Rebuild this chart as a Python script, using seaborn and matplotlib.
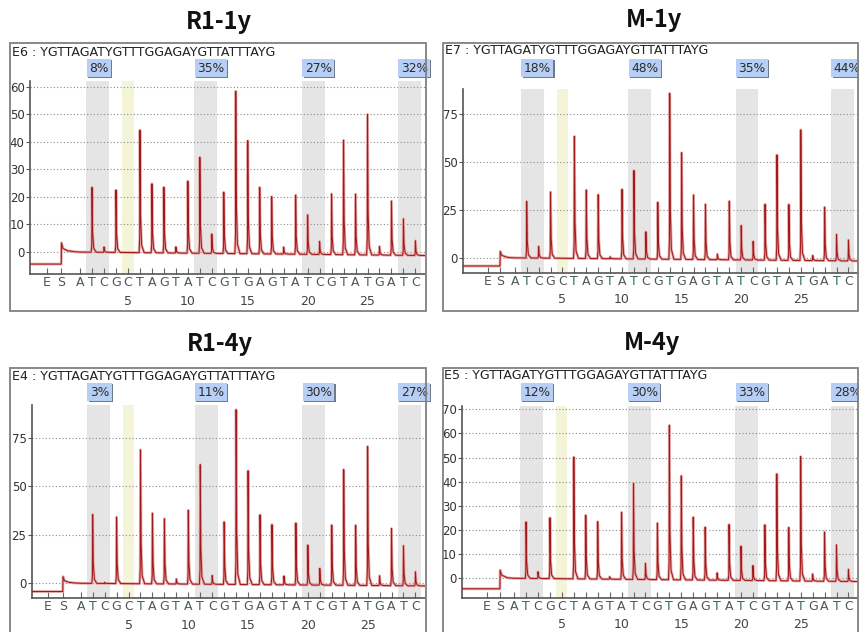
import matplotlib
matplotlib.use("Agg")
import matplotlib.pyplot as plt
import matplotlib.transforms as mtransforms
from matplotlib.patches import Rectangle
import seaborn as sns

W, H = 859, 632

# dispensation order (positions 1..29) and target sequence
dispensation = list("ATCGCTAGTATCGTGAGTATCGTATGATC")
positions = list(range(1, 30))
sequence = "YGTTAGATYGTTTGGAGAYGTTATTTAYG"
number_marks = [5, 10, 15, 20, 25]

titles = ["R1-1y", "M-1y", "R1-4y", "M-4y"]
wells = ["E6", "E7", "E4", "E5"]
cpg_sites = [(2, 3), (11, 12), (20, 21), (28, 29)]
bisulfite_ctrl = 5

meth_r1_1y = ["8%", "35%", "27%", "32%"]
meth_m_1y = ["18%", "48%", "35%", "44%"]
meth_r1_4y = ["3%", "11%", "30%", "27%"]
meth_m_4y = ["12%", "30%", "33%", "28%"]

# peak heights at each dispensation
peaks_r1_1y = [0, 23.5, 1.9, 22.6, 0, 44.4, 25.0, 23.8, 2.2, 26.1, 34.8, 7.0, 22.2, 58.9, 41.0,
               24.1, 20.8, 2.5, 21.4, 14.3, 4.7, 22.0, 41.5, 22.0, 51.0, 3.1, 19.6, 13.2, 5.3]
peaks_m_1y = [0, 29.5, 6.1, 34.5, 0, 63.6, 35.7, 33.3, 1.0, 36.2, 46.1, 14.2, 29.6, 86.5, 55.6,
              33.6, 28.8, 2.9, 30.5, 17.9, 9.7, 29.1, 54.9, 29.1, 68.1, 2.6, 27.9, 13.7, 10.9]
peaks_r1_4y = [0, 35.5, 0.5, 34.3, 0, 69.1, 36.4, 33.6, 2.6, 38.1, 61.7, 4.5, 32.2, 90.2, 58.7,
               36.0, 31.0, 4.5, 31.9, 20.6, 8.6, 31.0, 59.7, 31.0, 71.7, 5.0, 29.5, 20.6, 7.2]
peaks_m_4y = [0, 23.4, 2.8, 25.2, 0, 50.5, 26.4, 23.8, 1.0, 27.8, 39.8, 6.7, 23.4, 64.0, 43.1,
              26.0, 21.9, 3.0, 23.1, 14.2, 6.2, 23.1, 44.3, 22.1, 51.6, 2.9, 20.4, 15.1, 5.0]

# E / S dispensation positions, pre-start level, start spike, baseline at the end
es_pos = [(-1.75, -0.55), (-1.25, -0.22), (-1.73, -0.48), (-1.29, -0.17)]
pre_level = [-4.4, -4.3, -4.3, -4.4]
s_spike = [3.3, 3.3, 3.4, 3.3]
base_end = [-1.3, -1.7, -1.4, -1.4]

y_ticks = [[0, 10, 20, 30, 40, 50, 60], [0, 25, 50, 75], [0, 25, 50, 75],
           [0, 10, 20, 30, 40, 50, 60, 70]]
y_lims = [(-8, 62), (-7.8, 88), (-7.8, 92), (-8.1, 71.4)]
x_lims = [(-3.18, 29.8), (-3.37, 29.8), (-3.1, 29.8), (-3.34, 29.8)]

all_peaks = [peaks_r1_1y, peaks_m_1y, peaks_r1_4y, peaks_m_4y]
all_meth = [meth_r1_1y, meth_m_1y, meth_r1_4y, meth_m_4y]

# layout in pixels: axes (l, t, r, b), frame box (l, t, r, b), title xy, header xy, label row y
axes_px = [(30, 81, 425, 274), (462.7, 89, 858, 272.7), (31.7, 405, 425, 598.3), (462.3, 406, 858, 597.7)]
box_px = [(10, 43, 426, 311), (442.7, 43, 858, 311), (10, 368, 426, 660), (442.7, 367.5, 858, 660)]
title_px = [(219, 22), (654, 20), (220, 344), (652, 343)]
header_px = [(12, 52), (445, 51), (12, 377), (444, 376)]
label_y_px = [68, 68, 392, 392]

sns.set_theme(style="white")
plt.rcParams["font.family"] = ["DejaVu Sans"]

fig = plt.figure(figsize=(W / 100, H / 100), dpi=100)


def build_trace(heights, s, pre, spike, b_end, x0, x1):
    xs = [x0, s - 0.02, s, s + 0.12, s + 0.45, 0.5]
    ys = [pre, pre, spike, 1.3, 0.5, 0.1]
    for p, h in zip(positions, heights):
        b = b_end * p / x1
        if h < 0.3:
            xs += [p]
            ys += [b]
            continue
        xs += [p - 0.07, p - 0.02, p, p + 0.05, p + 0.14, p + 0.35]
        ys += [b, b + 0.12 * h, b + h, b + 0.3 * h, b + 0.06 * h, b]
    xs.append(x1)
    ys.append(b_end)
    return xs, ys


for i in range(4):
    l, t, r, b = axes_px[i]
    ax = fig.add_axes([l / W, 1 - b / H, (r - l) / W, (b - t) / H])
    ax.set_facecolor("white")
    x0, x1 = x_lims[i]
    e, s = es_pos[i]

    # shaded CpG sites and bisulfite control
    for a, z in cpg_sites:
        ax.axvspan(a - 0.47, z + 0.45, color="#e5e5e5", lw=0, zorder=0.1)
    ax.axvspan(bisulfite_ctrl - 0.47, bisulfite_ctrl + 0.47, color="#f4f4d8", lw=0, zorder=0.1)

    xs, ys = build_trace(all_peaks[i], s, pre_level[i], s_spike[i], base_end[i], x0, x1)
    sns.lineplot(x=xs, y=ys, sort=False, estimator=None, color="#e6a8a8", lw=2.0, ax=ax, zorder=2)
    sns.lineplot(x=xs, y=ys, sort=False, estimator=None, color="#a31919", lw=0.75, ax=ax, zorder=3)

    ax.set_xlim(x0, x1)
    ax.set_ylim(*y_lims[i])
    ax.set_yticks(y_ticks[i])
    ax.set_xticks([e, s] + positions)
    ax.set_xticklabels(["E", "S"] + dispensation)
    for lab, txt in zip(ax.get_xticklabels(), ["E", "S"] + dispensation):
        lab.set_color("#35675f" if txt == "T" else "#4f5656")
    ax.tick_params(axis="x", direction="in", length=4, width=0.8, color="#666666",
                   labelsize=9, pad=1.5, bottom=True)
    ax.tick_params(axis="y", direction="out", length=3, width=0.8, color="#555555",
                   labelsize=8.5, labelcolor="#333333", pad=0.8, left=True)
    for n in number_marks:
        ax.annotate(str(n), xy=(n, 0), xycoords=("data", "axes fraction"), xytext=(0, -19.5),
                    textcoords="offset points", ha="center", va="center", fontsize=9,
                    color="#444444")

    ax.yaxis.grid(True, ls=(0, (1, 2)), color="#8a8a8a", lw=0.8)
    ax.xaxis.grid(False)
    ax.set_axisbelow(True)
    sns.despine(ax=ax, right=True, top=True)
    for sp in ["left", "bottom"]:
        ax.spines[sp].set_color("#555555")
        ax.spines[sp].set_linewidth(1.2)

    # methylation percentage boxes
    trans = mtransforms.blended_transform_factory(ax.transData, fig.transFigure)
    ly = 1 - label_y_px[i] / H
    for (a, z), pct in zip(cpg_sites, all_meth[i]):
        shadow = mtransforms.offset_copy(trans, fig=fig, x=4.0, y=-1.3, units="dots")
        ax.text(a - 0.47, ly, pct, transform=shadow, ha="left", va="center", fontsize=8.8,
                color="none", clip_on=False, zorder=5,
                bbox=dict(boxstyle="square,pad=0.2", fc="#6f7b8a", ec="none"))
        front = mtransforms.offset_copy(trans, fig=fig, x=2.8, y=0, units="dots")
        ax.text(a - 0.47, ly, pct, transform=front, ha="left", va="center", fontsize=8.8,
                color="#2a2a2a", clip_on=False, zorder=6,
                bbox=dict(boxstyle="square,pad=0.2", fc="#b8cff5", ec="none"))

    # frame, title, header
    bl, bt, br, bb = box_px[i]
    fig.add_artist(Rectangle((bl / W, 1 - bb / H), (br - bl) / W, (bb - bt) / H,
                             transform=fig.transFigure, fill=False, ec="#808080", lw=1.3))
    tx, ty = title_px[i]
    fig.text(tx / W, 1 - ty / H, titles[i], ha="center", va="center", fontsize=17,
             fontweight="bold", family=["Noto Sans CJK KR", "DejaVu Sans"], color="#111111")
    hx, hy = header_px[i]
    fig.text(hx / W, 1 - hy / H, wells[i] + " : " + sequence, ha="left", va="center",
             fontsize=9.1, color="#222222")

fig.savefig("out.png", dpi=100)
